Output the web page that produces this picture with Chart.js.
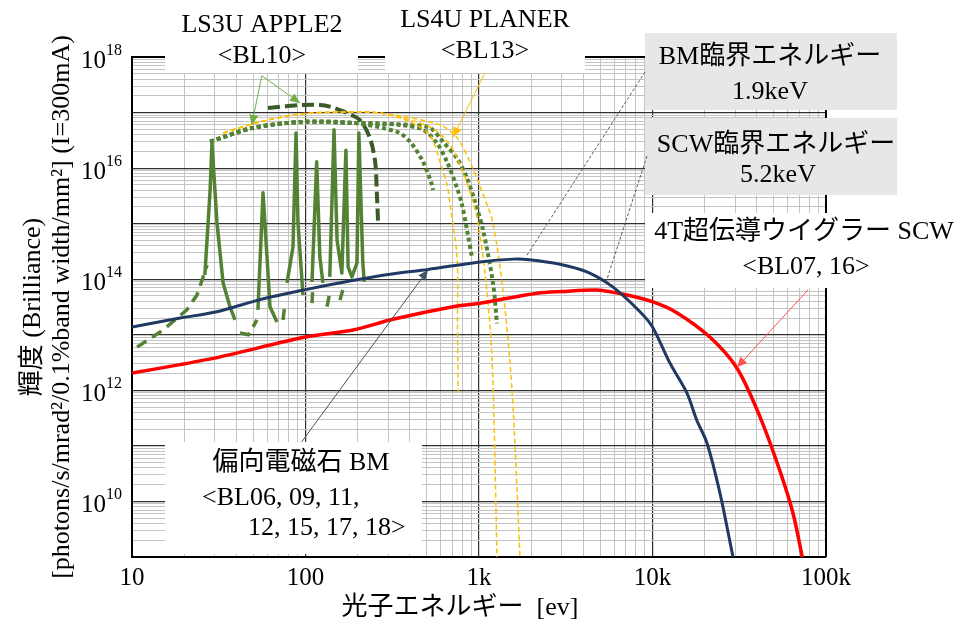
<!DOCTYPE html>
<html>
<head>
<meta charset="utf-8">
<script src="https://cdn.jsdelivr.net/npm/chart.js@4.4.1/dist/chart.umd.min.js"></script>
<style>
  html, body { margin: 0; padding: 0; background: #fff; }
  #wrap { width: 974px; height: 629px; position: relative; }
</style>
</head>
<body>
<div id="wrap"><canvas id="brillianceChart"></canvas></div>
<script>
// ==========================
// DATA (photon energy [eV], brilliance)
// ==========================
const bmEnergy = [10, 18.9, 30.9, 54.6, 100, 180, 307, 508, 1013, 1570, 1950, 2930, 4190, 5920, 8470, 10000, 12600, 15800, 18000, 20600, 24500, 29100];
const bmBrilliance = [1.38e13, 2.0e13, 2.6e13, 4.3e13, 6.5e13, 9.3e13, 1.23e14, 1.5e14, 2.05e14, 2.3e14, 2.25e14, 1.86e14, 1.35e14, 7.2e13, 2.6e13, 1.38e13, 3.1e12, 8.9e11, 2.9e11, 1.13e11, 1.4e10, 1e9];

const scwEnergy = [10, 18.9, 32.2, 100, 188, 319, 708, 1013, 2160, 3000, 4790, 7130, 10070, 13800, 21400, 30700, 41700, 54000, 64500, 73000];
const scwBrilliance = [2.05e12, 2.9e12, 4.0e12, 9.1e12, 1.22e13, 1.9e13, 3.2e13, 3.7e13, 5.6e13, 6.0e13, 6.4e13, 5.2e13, 3.9e13, 2.5e13, 9.1e12, 2.5e12, 3.3e11, 3.7e10, 6.2e9, 1e9];

// LS3U APPLE2 harmonics (solid), null = gap
const apple2HarmE = [26.3, 28.2, 28.9, 30.9, 33.5, 36.7, 39.2, 45, 53.2, 56.9, 60.0, 62.4, 68.5, 72, 78.2, 84.7, 88.2, 90.5, 96.7, 103, 109, 116, 121, 126, 132, 138, 146, 152, 162, 171, 176, 185, 198, 203, 214, 218];
const apple2HarmB = [1.19e14, 4.0e15, 2.8e16, 1.03e15, 8.6e13, 3.2e13, 1.85e13, null, 2.8e13, 3.6e15, 2.5e14, 3.2e13, 1.7e13, null, 8.6e13, 3.8e14, 4.3e16, 1.03e15, 5.2e13, null, 8.9e13, 1.3e16, 2.5e14, 8.6e13, null, 1.1e14, 4.9e16, 5.1e14, 1.29e14, 2.1e16, 1.66e14, 1.1e14, 1.96e14, 4.3e16, 1.96e14, 9e13];

// APPLE2 dashed (low energy + valleys)
const apple2DashE = [10.7, 15.1, 20.7, 23.7, 27.1, 35, 41.9, 47, 52.5, 60, 74.2, 76.2, 100, 109, 110, 120, 133, 138, 150, 158, 164];
const apple2DashB = [6.0e12, 1.22e13, 2.8e13, 5.2e13, 1.8e14, null, 1.08e13, 1.0e13, 1.85e13, null, 1.85e13, 3.7e13, null, 3.7e13, 6.4e13, null, 3.2e13, 5.6e13, null, 4.2e13, 6.4e13];

// APPLE2 dark dashed envelope
const apple2EnvE = [60.8, 96.7, 121, 138, 169, 206, 235, 252, 258, 262];
const apple2EnvB = [1.21e17, 1.37e17, 1.37e17, 1.28e17, 1.02e17, 7.3e16, 3.5e16, 1.3e16, 3.3e15, 1.07e15];

// dotted green envelopes
const dotStartE = [28.2, 49.8, 96.7, 188];
const dotStartB = [3.0e16, 5.3e16, 6.8e16, 6.5e16];
const dot1E = [337, 400, 476, 536, 543];
const dot1B = [4.5e16, 3.0e16, 1.3e16, 5.0e15, 4.0e15];
const dot2E = [350, 476, 573, 654, 747, 798, 853, 911];
const dot2B = [6.0e16, 4.9e16, 2.8e16, 1.3e16, 4.4e15, 2.2e15, 7.7e14, 2.5e14];
const dot3E = [400, 522, 620, 747, 853, 948, 1055, 1204, 1270];
const dot3B = [6.0e16, 5.3e16, 3.0e16, 1.5e16, 6.6e15, 2.5e15, 7.7e14, 8.6e13, 1.6e13];

// LS4U PLANER (yellow dashed)
const planarStartE = [33.5, 54.7, 93, 158, 269];
const planarStartB = [4.3e16, 6.8e16, 9.4e16, 1.02e17, 9.8e16];
const planar1E = [400, 522, 596, 654, 681, 747, 752, 757];
const planar1B = [6.8e16, 3.9e16, 1.3e16, 5.0e15, 2.2e15, 2.5e14, 1.5e13, 9.0e11];
const planar2E = [522, 681, 809, 923, 987, 1083, 1188, 1270];
const planar2B = [5.5e16, 2.6e16, 8.5e15, 2.5e15, 1.03e15, 1.29e14, 4.0e12, 1e9];
const planar3E = [596, 747, 887, 1112, 1204, 1375, 1550, 1723];
const planar3B = [6.0e16, 3.5e16, 1.3e16, 2.2e15, 1.03e15, 6.4e13, 1.0e12, 1e9];

// axes
const xMajorValues = [10, 100, 1000, 10000, 100000];
const xMajorLabels = ['10', '100', '1k', '10k', '100k'];
const yLabelExponents = [10, 12, 14, 16, 18];

const SERIF = '"Liberation Serif", "Noto Sans CJK JP", serif';

// annotation leaders (data coords)
const leaders = [
  { from: [56, 4.6e17], to: [49, 6.0e16], color: '#70ad47', dash: [], arrow: true },
  { from: [56, 4.6e17], to: [93, 1.49e17], color: '#70ad47', dash: [], arrow: true },
  { from: [1083, 5.2e17], to: [708, 3.6e16], color: '#ffc000', dash: [], arrow: true },
  { from: [95, 1.18e11], to: [508, 1.47e14], color: '#44546a', dash: [], arrow: true },
  { from: [9060, 5.4e17], to: [1890, 2.7e14], color: '#595959', dash: [3, 2], arrow: false },
  { from: [9290, 1.65e16], to: [5400, 8.9e13], color: '#595959', dash: [3, 2], arrow: false },
  { from: [78700, 6.4e13], to: [30700, 2.6e12], color: '#ff5050', dash: [], arrow: true }
];

// label boxes (layout)
const boxes = [
  { x: 165, y: 0, w: 193, h: 73, fill: '#ffffff', text: [['LS3U APPLE2', 262, 25], ['<BL10>', 262, 56]] },
  { x: 385, y: 0, w: 200, h: 73, fill: '#ffffff', text: [['LS4U PLANER', 485, 20], ['<BL13>', 485, 51]] },
  { x: 645, y: 33, w: 252, h: 77, fill: '#e7e7e7', text: [['BM臨界エネルギー', 770, 57], ['1.9keV', 770, 92]] },
  { x: 645, y: 118, w: 252, h: 77, fill: '#e7e7e7', text: [['SCW臨界エネルギー', 776, 145], ['5.2keV', 778, 175]] },
  { x: 645, y: 213, w: 329, h: 75, fill: '#ffffff', text: [['4T超伝導ウイグラー SCW', 804, 232], ['<BL07, 16>', 806, 267]] },
  { x: 165, y: 442, w: 257, h: 112, fill: '#ffffff', text: [['偏向電磁石 BM', 301, 463], ['<BL06, 09, 11,', 202, 498, 'left'], ['12, 15, 17, 18>', 248, 528, 'left']] }
];

function pts(xs, ys) { return xs.map((x, i) => ({ x: x, y: ys[i] })); }

function logTicks(e0, e1) {
  const out = [];
  for (let e = e0; e < e1; e++) for (let k = 1; k <= 9; k++) out.push(k * Math.pow(10, e));
  out.push(Math.pow(10, e1));
  return out;
}
function isMajor(v) {
  if (!v) return false;
  const l = Math.log10(v);
  return Math.abs(l - Math.round(l)) < 1e-9;
}

function arrowHead(ctx, x0, y0, x1, y1, color) {
  const ang = Math.atan2(y1 - y0, x1 - x0), L = 10, W = 4.5;
  ctx.beginPath();
  ctx.moveTo(x1, y1);
  ctx.lineTo(x1 - L * Math.cos(ang) + W * Math.sin(ang), y1 - L * Math.sin(ang) - W * Math.cos(ang));
  ctx.lineTo(x1 - L * Math.cos(ang) - W * Math.sin(ang), y1 - L * Math.sin(ang) + W * Math.cos(ang));
  ctx.closePath();
  ctx.fillStyle = color;
  ctx.fill();
}

const overlay = {
  id: 'overlay',
  afterDraw(chart) {
    const { ctx, chartArea: a, scales: { x, y } } = chart;
    ctx.save();
    // top + right frame
    ctx.strokeStyle = '#000'; ctx.lineWidth = 2; ctx.setLineDash([]);
    ctx.beginPath(); ctx.moveTo(a.left, a.top); ctx.lineTo(a.right, a.top); ctx.lineTo(a.right, a.bottom); ctx.stroke();

    // y tick labels 10^n
    ctx.fillStyle = '#000'; ctx.textAlign = 'right'; ctx.textBaseline = 'alphabetic';
    yLabelExponents.forEach(e => {
      const py = y.getPixelForValue(Math.pow(10, e));
      ctx.font = '16px ' + SERIF;
      const w = ctx.measureText(String(e)).width;
      ctx.fillText(String(e), a.left - 10, py - 2);
      ctx.font = '25px ' + SERIF;
      ctx.fillText('10', a.left - 10 - w, py + 11);
    });

    // boxes + texts
    boxes.forEach(b => {
      ctx.fillStyle = b.fill; ctx.fillRect(b.x, b.y, b.w, b.h);
      ctx.fillStyle = '#000'; ctx.font = '26px ' + SERIF; ctx.textBaseline = 'middle';
      b.text.forEach(t => { ctx.textAlign = t[3] || 'center'; ctx.fillText(t[0], t[1], t[2]); });
    });

    // leader lines
    leaders.forEach(l => {
      const x0 = x.getPixelForValue(l.from[0]), y0 = y.getPixelForValue(l.from[1]);
      const x1 = x.getPixelForValue(l.to[0]), y1 = y.getPixelForValue(l.to[1]);
      ctx.strokeStyle = l.color; ctx.lineWidth = 1; ctx.setLineDash(l.dash);
      ctx.beginPath(); ctx.moveTo(x0, y0); ctx.lineTo(x1, y1); ctx.stroke();
      ctx.setLineDash([]);
      if (l.arrow) arrowHead(ctx, x0, y0, x1, y1, l.color);
    });

    // x title
    ctx.fillStyle = '#000'; ctx.font = '26px ' + SERIF; ctx.textAlign = 'center'; ctx.textBaseline = 'middle';
    ctx.fillText('光子エネルギー  [ev]', 460, 608);
    ctx.restore();
  }
};

function line(data, color, width, dash, tension) {
  return {
    data, borderColor: color, backgroundColor: color, borderWidth: width,
    borderDash: dash, pointRadius: 0, tension: tension, fill: false,
    borderJoinStyle: 'round', borderCapStyle: 'butt', spanGaps: false
  };
}

const gridOpts = {
  color: ctx => isMajor(ctx.tick && ctx.tick.value) ? '#303030' : '#c4c4c4',
  lineWidth: ctx => isMajor(ctx.tick && ctx.tick.value) ? 1.2 : 1,
  drawTicks: false
};

new Chart(document.getElementById('brillianceChart'), {
  type: 'line',
  data: {
    datasets: [
      line(pts(bmEnergy, bmBrilliance), '#203864', 3, [], 0.3),
      line(pts(scwEnergy, scwBrilliance), '#ff0000', 3.5, [], 0.3),
      line(pts(planarStartE.concat(planar1E), planarStartB.concat(planar1B)), '#ffc000', 1.5, [5, 3], 0.3),
      line(pts(planarStartE.concat(planar2E), planarStartB.concat(planar2B)), '#ffc000', 1.5, [5, 3], 0.3),
      line(pts(planarStartE.concat(planar3E), planarStartB.concat(planar3B)), '#ffc000', 1.5, [5, 3], 0.3),
      line(pts(dotStartE.concat(dot1E), dotStartB.concat(dot1B)), '#548235', 4, [4, 3], 0.3),
      line(pts(dotStartE.concat(dot2E), dotStartB.concat(dot2B)), '#548235', 4, [4, 3], 0.3),
      line(pts(dotStartE.concat(dot3E), dotStartB.concat(dot3B)), '#548235', 4, [4, 3], 0.3),
      line(pts(apple2EnvE, apple2EnvB), '#3a5a28', 4, [12, 5], 0.3),
      line(pts(apple2HarmE, apple2HarmB), '#548235', 3.5, [], 0),
      line(pts(apple2DashE, apple2DashB), '#548235', 3.5, [11, 7], 0)
    ]
  },
  options: {
    responsive: true,
    maintainAspectRatio: false,
    animation: false,
    events: [],
    layout: { padding: { left: 0, right: 148, top: 57, bottom: 0 } },
    plugins: { legend: { display: false }, tooltip: { enabled: false } },
    scales: {
      x: {
        type: 'logarithmic', min: 10, max: 100000,
        afterBuildTicks: axis => { axis.ticks = logTicks(1, 5).map(v => ({ value: v })); },
        afterFit: s => { s.height = 72; },
        ticks: {
          autoSkip: false, maxRotation: 0, padding: 6, color: '#000',
          font: { family: SERIF, size: 25 },
          callback: v => { const i = xMajorValues.indexOf(v); return i >= 0 ? xMajorLabels[i] : ''; }
        },
        grid: gridOpts,
        border: { color: '#000', width: 2 }
      },
      y: {
        type: 'logarithmic', min: 1e9, max: 1e18,
        afterBuildTicks: axis => { axis.ticks = logTicks(9, 18).map(v => ({ value: v })); },
        afterFit: s => { s.width = 132; },
        ticks: { autoSkip: false, callback: () => '' },
        title: {
          display: true,
          text: ['輝度 (Brilliance)', '[photons/s/mrad²/0.1%band width/mm²] (I=300mA)'],
          color: '#000',
          font: { family: SERIF, size: 26, lineHeight: 1.12 },
          padding: { top: 18.5, bottom: 0 }
        },
        grid: gridOpts,
        border: { color: '#000', width: 2 }
      }
    }
  },
  plugins: [overlay]
});
</script>
</body>
</html>
